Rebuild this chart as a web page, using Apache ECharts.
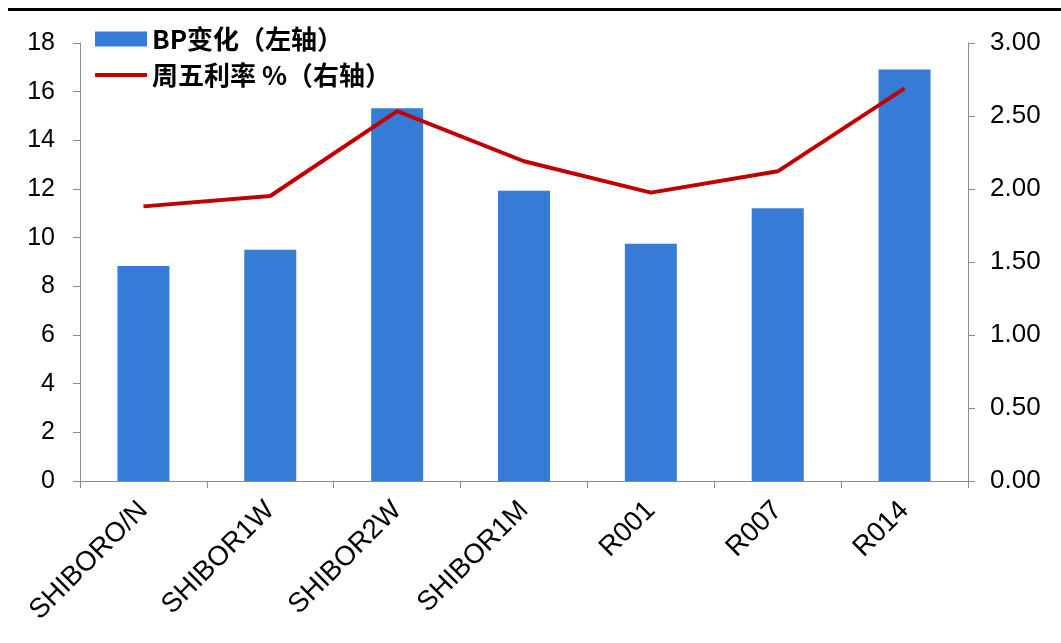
<!DOCTYPE html>
<html>
<head>
<meta charset="utf-8">
<script src="https://cdn.jsdelivr.net/npm/echarts@6/dist/echarts.min.js"></script>
<style>html,body{margin:0;padding:0;background:#fff}#c{width:1061px;height:643px}</style>
</head>
<body>
<div id="c"></div>
<script>
const categories = ['SHIBORO/N','SHIBOR1W','SHIBOR2W','SHIBOR1M','R001','R007','R014'];
const bpChange = [8.84, 9.50, 15.32, 11.93, 9.75, 11.21, 16.91];
const fridayRate = [1.881, 1.952, 2.533, 2.19, 1.975, 2.121, 2.689];
const leftTicks = {min: 0, max: 18, interval: 2};
const rightTicks = {min: 0, max: 3, interval: 0.5};
const seriesNames = ['BP变化（左轴）', '周五利率 %（右轴）'];

const chart = echarts.init(document.getElementById('c'), null, {renderer: 'canvas'});
const axisGray = '#8c8c8c';
const font = '"Liberation Sans", Arial, sans-serif';
chart.setOption({
  animation: false,
  textStyle: {fontFamily: font},
  graphic: [{
    type: 'line', shape: {x1: 8, y1: 9.5, x2: 1061, y2: 9.5},
    style: {stroke: '#000', lineWidth: 3}
  }],
  legend: {
    orient: 'vertical', left: 90, top: 21,
    itemWidth: 52, itemHeight: 15, itemGap: 10,
    textStyle: {fontFamily: '"Noto Sans CJK SC", sans-serif', fontWeight: 'bold', fontSize: 26, lineHeight: 26, color: '#000'},
    data: [
      {name: seriesNames[0], icon: 'rect'},
      {name: seriesNames[1], icon: 'path://M0,0H60V4.6H0Z', itemStyle: {color: '#C00000'}}
    ]
  },
  grid: {left: 80, right: 93, top: 43, bottom: 162, containLabel: false},
  xAxis: {
    type: 'category', data: categories,
    axisLine: {lineStyle: {color: axisGray, width: 1}},
    axisTick: {show: true, length: 7, lineStyle: {color: axisGray}},
    axisLabel: {rotate: 45, fontSize: 27.5, color: '#000', fontFamily: font, margin: 25, interval: 0}
  },
  yAxis: [{
    type: 'value', min: leftTicks.min, max: leftTicks.max, interval: leftTicks.interval,
    position: 'left',
    axisLine: {show: true, lineStyle: {color: axisGray}},
    axisTick: {show: true, length: 7, lineStyle: {color: axisGray}},
    splitLine: {show: false},
    axisLabel: {fontSize: 25, color: '#000', fontFamily: font, margin: 25}
  }, {
    type: 'value', min: rightTicks.min, max: rightTicks.max, interval: rightTicks.interval,
    position: 'right',
    axisLine: {show: true, lineStyle: {color: axisGray}},
    axisTick: {show: true, length: 7, lineStyle: {color: axisGray}},
    splitLine: {show: false},
    axisLabel: {fontSize: 26, color: '#000', fontFamily: font, margin: 22, formatter: v => v.toFixed(2)}
  }],
  series: [{
    name: seriesNames[0], type: 'bar', data: bpChange, yAxisIndex: 0,
    barWidth: '41%',
    itemStyle: {color: '#367BD5'}
  }, {
    name: seriesNames[1], type: 'line', data: fridayRate, yAxisIndex: 1,
    symbol: 'none', showSymbol: false,
    lineStyle: {color: '#C00000', width: 4},
    itemStyle: {color: '#C00000'}
  }]
});
</script>
</body>
</html>
